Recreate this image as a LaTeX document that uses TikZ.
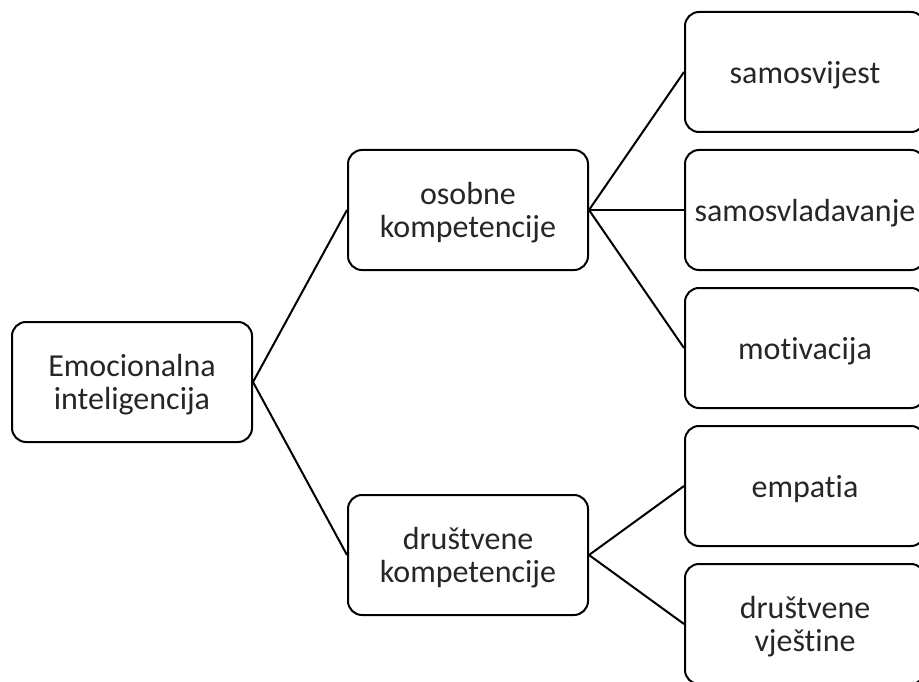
\documentclass[tikz,border=0pt]{standalone}
\usepackage{fontspec}
\setmainfont{Carlito}[Ligatures=NoCommon]
\begin{document}
\begin{tikzpicture}[x=1pt,y=-1pt,
  box/.style={draw=black, line width=2pt, rounded corners=14pt, fill=white,
    minimum width=240pt, minimum height=120pt, inner sep=0pt},
  txt/.style={align=center, inner sep=0pt, yshift=-3pt,
    text=black!85, font=\fontsize{32}{33}\selectfont},
  link/.style={draw=black, line width=2pt}]
\useasboundingbox (0,0) rectangle (919,682);
\clip (0,0) rectangle (919,682);
\node[box, label={[txt]center:{Emocionalna\\inteligencija}}] (root) at (132,382) {};
\node[box, label={[txt]center:{osobne\\kompetencije}}] (osob) at (468,210) {};
\node[box, label={[txt]center:{društvene\\kompetencije}}] (drus) at (468,555) {};
\node[box, label={[txt]center:{samosvijest}}] (s1) at (805,72) {};
\node[box, label={[txt]center:{samosvladavanje}}] (s2) at (805,210) {};
\node[box, label={[txt]center:{motivacija}}] (s3) at (805,348) {};
\node[box, label={[txt]center:{empatia}}] (s4) at (805,486) {};
\node[box, label={[txt]center:{društvene\\vještine}}] (s5) at (805,624) {};
\draw[link] (root.east) -- (osob.west);
\draw[link] (root.east) -- (drus.west);
\draw[link] (osob.east) -- (s1.west);
\draw[link] (osob.east) -- (s2.west);
\draw[link] (osob.east) -- (s3.west);
\draw[link] (drus.east) -- (s4.west);
\draw[link] (drus.east) -- (s5.west);
\end{tikzpicture}
\end{document}
